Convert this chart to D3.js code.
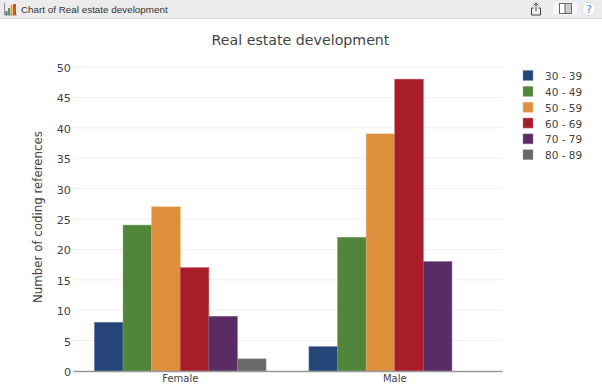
<!DOCTYPE html>
<html>
<head>
<meta charset="utf-8">
<script src="https://cdn.jsdelivr.net/npm/d3@7"></script>
<style>
  html, body { margin: 0; padding: 0; background: #fff; overflow: hidden; }
  text { font-family: "DejaVu Sans", sans-serif; }
</style>
</head>
<body>
<div id="chart"></div>
<script>
var chartTitle = "Real estate development";
var windowTitle = "Chart of Real estate development";
var yLabel = "Number of coding references";
var genders = ["Female", "Male"];
var ageGroups = ["30 - 39", "40 - 49", "50 - 59", "60 - 69", "70 - 79", "80 - 89"];
var femaleValues = [8, 24, 27, 17, 9, 2];
var maleValues = [4, 22, 39, 48, 18, 0];
var colors = ["#254478", "#50853a", "#de8f3c", "#a91d29", "#5a2c63", "#6a6a6a"];
var yTicks = [0, 5, 10, 15, 20, 25, 30, 35, 40, 45, 50];

var width = 602, height = 384;
var margin = {top: 67, right: 100, bottom: 13, left: 73};

var svg = d3.select("#chart")
  .append("svg")
    .attr("width", width)
    .attr("height", height)
    .style("display", "block");

// window title bar
svg.append("rect").attr("width", width).attr("height", 18).attr("fill", "#ececec");
svg.append("line").attr("x1", 0).attr("x2", width).attr("y1", 18.5).attr("y2", 18.5).attr("stroke", "#d6d6d6");
svg.append("text").attr("x", 21).attr("y", 13).attr("font-size", 9.85).attr("fill", "#333")
  .style("font-family", '"Liberation Sans", sans-serif').text(windowTitle);

// little chart icon
var icon = svg.append("g").attr("transform", "translate(4,3)");
icon.append("path").attr("d", "M0.5,0V12H13").attr("fill", "none").attr("stroke", "#777").attr("stroke-width", 0.8);
[[1.5, 8, 2, "#3b6fb0"], [4, 5, 2, "#5d9a3f"], [6.5, 2, 2, "#e0a030"], [9, 1, 3, "#c8552b"]].forEach(function(b) {
  icon.append("rect").attr("x", b[0]).attr("y", b[1]).attr("width", b[2]).attr("height", 12 - b[1]).attr("fill", b[3]);
});

// share button
var share = svg.append("g").attr("transform", "translate(530,2)").attr("fill", "none").attr("stroke", "#444").attr("stroke-width", 1);
share.append("path").attr("d", "M3.5,6H1.5V13H10.5V6H8.5");
share.append("path").attr("d", "M6,9V1M3.5,3.5L6,1L8.5,3.5");

// sidebar toggle
svg.append("rect").attr("x", 553).attr("y", 2).attr("width", 24).attr("height", 13).attr("rx", 3).attr("fill", "#f8f8f8");
svg.append("rect").attr("x", 559.5).attr("y", 3.5).attr("width", 12).attr("height", 10).attr("fill", "#fff").attr("stroke", "#666");
svg.append("rect").attr("x", 565).attr("y", 3.5).attr("width", 6.5).attr("height", 10).attr("fill", "#ccc").attr("stroke", "#666");

// help button
svg.append("circle").attr("cx", 589).attr("cy", 9).attr("r", 6.5).attr("fill", "#fff").attr("stroke", "#ddd");
svg.append("text").attr("x", 589).attr("y", 13).attr("text-anchor", "middle").attr("font-size", 11).attr("fill", "#3d8bef").text("?");

var x0 = d3.scaleBand()
  .domain(genders)
  .range([margin.left, width - margin.right])
  .paddingInner(0.2)
  .paddingOuter(0.1);

var x1 = d3.scaleBand()
  .domain(ageGroups)
  .range([0, x0.bandwidth()]);

var y = d3.scaleLinear()
  .domain([0, 50])
  .range([height - margin.bottom, margin.top]);

// gridlines
svg.append("g")
  .selectAll("line")
  .data(yTicks.slice(1))
  .join("line")
    .attr("x1", margin.left)
    .attr("x2", width - margin.right)
    .attr("y1", function(d) { return y(d); })
    .attr("y2", function(d) { return y(d); })
    .attr("stroke", "#eeeeee");

// bars
var rows = [femaleValues, maleValues];
genders.forEach(function(g, i) {
  svg.append("g")
    .selectAll("rect")
    .data(rows[i])
    .join("rect")
      .attr("x", function(d, j) { return x0(g) + x1(ageGroups[j]); })
      .attr("y", function(d) { return y(d); })
      .attr("width", x1.bandwidth())
      .attr("height", function(d) { return y(0) - y(d); })
      .attr("fill", function(d, j) { return colors[j]; })
      .attr("stroke", function(d, j) { return d3.interpolateRgb(colors[j], "#fff")(0.25); })
      .attr("stroke-width", 0.5);
});

// axes
var yAxis = svg.append("g")
  .attr("transform", "translate(" + margin.left + ",1)")
  .call(d3.axisLeft(y).tickValues(yTicks).tickSize(0).tickPadding(2));
yAxis.select(".domain").remove();
yAxis.selectAll("text").attr("font-size", 11.2).attr("fill", "#444").style("font-family", '"DejaVu Sans", sans-serif');

var xAxis = svg.append("g")
  .attr("transform", "translate(0," + y(0) + ")")
  .call(d3.axisBottom(x0).tickSize(0).tickPadding(4));
xAxis.select(".domain").attr("stroke", "#999").attr("stroke-width", 1.5);
xAxis.selectAll("text").attr("font-size", 10).attr("fill", "#444").style("font-family", '"DejaVu Sans", sans-serif');

// titles
svg.append("text")
  .attr("x", 300.5)
  .attr("y", 45)
  .attr("text-anchor", "middle")
  .attr("font-size", 14.2)
  .attr("fill", "#444")
  .text(chartTitle);

svg.append("text")
  .attr("transform", "translate(42,217)rotate(-90)")
  .attr("text-anchor", "middle")
  .attr("font-size", 11.8)
  .attr("fill", "#444")
  .text(yLabel);

// legend
var legend = svg.append("g")
  .selectAll("g")
  .data(ageGroups)
  .join("g")
    .attr("transform", function(d, i) { return "translate(523," + (70.5 + i * 15.85) + ")"; });

legend.append("rect")
  .attr("width", 10)
  .attr("height", 10)
  .attr("fill", function(d, i) { return colors[i]; })
  .attr("stroke", function(d, i) { return d3.interpolateRgb(colors[i], "#fff")(0.4); })
  .attr("stroke-width", 0.5);

legend.append("text")
  .attr("x", 22)
  .attr("y", 9.5)
  .attr("font-size", 10.5)
  .attr("fill", "#444")
  .text(function(d) { return d; });
</script>
</body>
</html>
